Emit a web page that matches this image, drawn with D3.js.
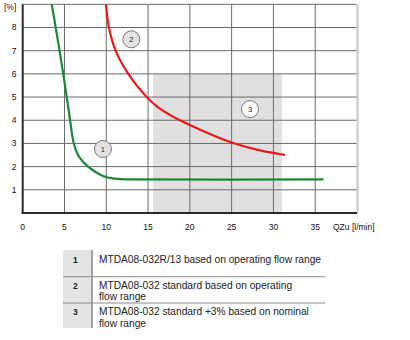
<!DOCTYPE html>
<html><head><meta charset="utf-8">
<script src="https://cdn.jsdelivr.net/npm/d3@7"></script>
<style>body{margin:0;background:#fff}svg{display:block;font-family:"Liberation Sans",Arial,sans-serif}</style>
</head><body><svg id="c" width="410" height="340"></svg>
<script>
const xTicks = [0,5,10,15,20,25,30,35];
const yTicks = [1,2,3,4,5,6,7,8];
const xUnit = "QZu [l/min]";
const yUnit = "[%]";
const series1X = [3.47,3.95,4.41,4.85,5.27,5.67,6.12,6.75,7.9,9.6,11.3,13,36];
const series1Y = [9,8,7,6,5,4,3,2.42,1.98,1.6,1.47,1.45,1.45];
const series2X = [9.96,10.32,11.12,12.63,14.83,16.2,18.0,21.5,25,28,31.4];
const series2Y = [9,8,7,6,5,4.55,4.15,3.55,3.04,2.73,2.5];
const rangeX = [15.6,31.0];
const rangeY = [0,6];
const markerIds = ["1","2","3"];
const markerX = [9.6,13.0,27.2];
const markerY = [2.76,7.49,4.48];
const tableIds = ["1","2","3"];
const tableText = [
  ["MTDA08-032R/13 based on operating flow range"],
  ["MTDA08-032 standard based on operating","flow range"],
  ["MTDA08-032 standard +3% based on nominal","flow range"]
];

const svg = d3.select("#c");
const x = d3.scaleLinear().domain([0,40]).range([22.7,357]);
const y = d3.scaleLinear().domain([0,9]).range([213,4.3]);

svg.append("rect").attr("x",x(rangeX[0])).attr("y",y(rangeY[1]))
  .attr("width",x(rangeX[1])-x(rangeX[0])).attr("height",y(rangeY[0])-y(rangeY[1]))
  .attr("fill","#e0e0e0");

const g = svg.append("g");
xTicks.filter(d=>d>0).forEach(d=>g.append("line").attr("x1",x(d)).attr("x2",x(d)).attr("y1",y(9)).attr("y2",y(0)).attr("stroke","#6a6a6a").attr("stroke-width",1));
yTicks.forEach(d=>g.append("line").attr("x1",x(0)).attr("x2",x(40)).attr("y1",y(d)).attr("y2",y(d)).attr("stroke","#6a6a6a").attr("stroke-width",1));
g.append("line").attr("x1",x(0)).attr("x2",x(40)).attr("y1",y(9)).attr("y2",y(9)).attr("stroke","#6a6a6a");
g.append("line").attr("x1",x(40)+0.5).attr("x2",x(40)+0.5).attr("y1",y(9)).attr("y2",y(0)).attr("stroke","#c8c8c8").attr("stroke-width",2);
g.append("line").attr("x1",x(0)).attr("x2",x(0)).attr("y1",y(9)).attr("y2",y(0)+1).attr("stroke","#2a2a2a").attr("stroke-width",2);
g.append("line").attr("x1",x(0)-1).attr("x2",x(40)).attr("y1",y(0)).attr("y2",y(0)).attr("stroke","#2a2a2a").attr("stroke-width",2);

svg.append("g").selectAll("text").data(xTicks).join("text")
  .attr("x",d=>x(d)).attr("y",230).attr("text-anchor","middle")
  .attr("font-size",8.5).attr("fill","#111").text(d=>d);
svg.append("g").selectAll("text").data(yTicks).join("text")
  .attr("x",16.5).attr("y",d=>y(d)+3).attr("text-anchor","end")
  .attr("font-size",8.5).attr("fill","#111").text(d=>d);
svg.append("text").attr("x",333).attr("y",230).attr("font-size",8.5).attr("fill","#111").text(xUnit);
svg.append("text").attr("x",4).attr("y",9.5).attr("font-size",8.5).attr("fill","#111").text(yUnit);

const line = d3.line().x(d=>x(d[0])).y(d=>y(d[1])).curve(d3.curveCatmullRom.alpha(0.5));
svg.append("path").attr("d",line(series1X.map((v,i)=>[v,series1Y[i]])))
  .attr("fill","none").attr("stroke","#188a36").attr("stroke-width",2.2);
svg.append("path").attr("d",line(series2X.map((v,i)=>[v,series2Y[i]])))
  .attr("fill","none").attr("stroke","#ea1a1a").attr("stroke-width",2.2);

markerIds.forEach((id,i)=>{
  svg.append("circle").attr("cx",x(markerX[i])).attr("cy",y(markerY[i])).attr("r",8.5)
    .attr("fill", i===2 ? "#ffffff" : "#e2e2e2").attr("stroke","#7a7a7a").attr("stroke-width",1);
  svg.append("text").attr("x",x(markerX[i])).attr("y",y(markerY[i])+2.8).attr("text-anchor","middle")
    .attr("font-size",7.5).attr("fill","#222").text(id);
});

const t = svg.append("g");
t.append("rect").attr("x",63).attr("y",250).attr("width",29).attr("height",78).attr("fill","#e4e4e4");
t.append("line").attr("x1",92).attr("x2",92).attr("y1",250).attr("y2",328).attr("stroke","#555").attr("stroke-width",1);
[276.7,303].forEach(v=>t.append("line").attr("x1",63).attr("x2",325).attr("y1",v).attr("y2",v).attr("stroke","#888").attr("stroke-width",1));
const firstLineY = [262.5,288.5,315];
tableIds.forEach((id,i)=>{
  t.append("text").attr("x",73).attr("y",firstLineY[i]).attr("font-size",8.5).attr("font-weight","bold").attr("fill","#222").text(id);
  tableText[i].forEach((s,j)=>{
    t.append("text").attr("x",99).attr("y",firstLineY[i]+j*11.7).attr("font-size",10.2).attr("fill","#222").text(s);
  });
});
</script></body></html>
